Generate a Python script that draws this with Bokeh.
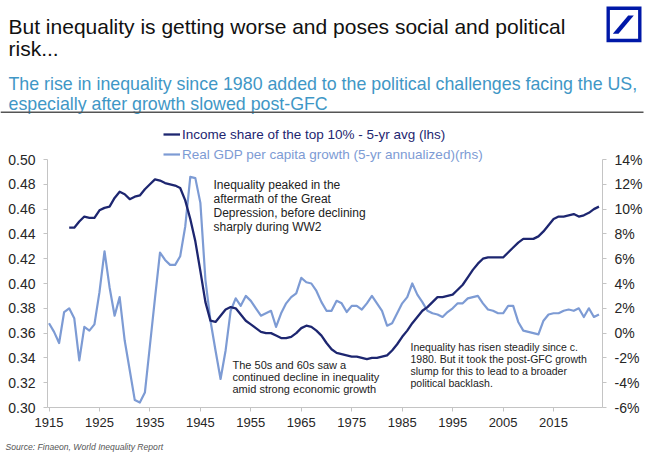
from bokeh.plotting import figure
from bokeh.models import (Range1d, LinearAxis, FixedTicker, PrintfTickFormatter, Label,
                          Legend, LegendItem, PolyAnnotation, BoxAnnotation, ColumnDataSource)
from bokeh.core.properties import value
from bokeh.embed import file_html
from bokeh.resources import INLINE

# ---------------- data ----------------
income_years = list(range(1919, 2025))
income_share = [
    0.445, 0.445, 0.450, 0.454, 0.453, 0.453, 0.459, 0.461, 0.462, 0.469,   # 1919-1928
    0.474, 0.472, 0.468, 0.470, 0.471, 0.476, 0.480, 0.484, 0.483, 0.481,   # 1929-1938
    0.480, 0.479, 0.477, 0.467, 0.452, 0.434, 0.410, 0.385, 0.370, 0.369,   # 1939-1948
    0.374, 0.379, 0.381, 0.380, 0.375, 0.370, 0.367, 0.364, 0.361, 0.360,   # 1949-1958
    0.360, 0.358, 0.356, 0.356, 0.357, 0.360, 0.364, 0.366, 0.365, 0.362,   # 1959-1968
    0.358, 0.352, 0.347, 0.344, 0.343, 0.342, 0.341, 0.341, 0.340, 0.339,   # 1969-1978
    0.340, 0.340, 0.341, 0.342, 0.346, 0.351, 0.357, 0.362, 0.368, 0.373,   # 1979-1988
    0.378, 0.381, 0.385, 0.389, 0.389, 0.390, 0.391, 0.395, 0.399, 0.405,   # 1989-1998
    0.411, 0.416, 0.420, 0.421, 0.421, 0.421, 0.421, 0.425, 0.429, 0.433,   # 1999-2008
    0.436, 0.436, 0.436, 0.438, 0.442, 0.447, 0.452, 0.454, 0.454, 0.455,   # 2009-2018
    0.456, 0.454, 0.455, 0.457, 0.460, 0.462,                               # 2019-2024
]

gdp_years = list(range(1915, 2025))
gdp_growth = [
    0.8, 0.1, -0.8, 1.7, 2.0, 1.2, -2.2, 0.5, 0.2, 0.7,        # 1915-1924
    3.3, 6.6, 3.7, 1.4, 2.9, -0.6, -3.0, -5.4, -5.6, -4.8,     # 1925-1934
    -1.0, 2.8, 6.5, 5.9, 5.5, 5.5, 6.2, 8.6, 12.6, 12.5,       # 1935-1944
    10.5, 4.3, 1.0, -1.4, -3.7, -1.4, 1.8, 2.8, 2.2, 3.0,      # 1945-1954
    2.6, 2.0, 1.4, 1.6, 1.8, 0.5, 1.6, 2.4, 2.9, 3.2,          # 1955-1964
    4.45, 4.1, 4.0, 3.4, 2.5, 1.8, 1.8, 2.6, 2.4, 1.7,         # 1965-1974
    2.2, 2.2, 1.9, 2.4, 3.0, 2.4, 1.8, 0.6, 0.8, 1.6,          # 1975-1984
    2.4, 2.9, 4.0, 3.1, 2.5, 1.8, 1.6, 1.5, 1.3, 1.7,          # 1985-1994
    2.0, 2.4, 2.4, 2.8, 2.9, 3.0, 2.4, 1.9, 1.8, 1.6,          # 1995-2004
    1.6, 2.2, 2.2, 0.9, 0.2, 0.1, 0.0, -0.1, 1.0, 1.5,         # 2005-2014
    1.6, 1.6, 1.8, 1.9, 1.8, 2.0, 1.3, 2.0, 1.3, 1.5,          # 2015-2024
]

x_ticks = [1915, 1925, 1935, 1945, 1955, 1965, 1975, 1985, 1995, 2005, 2015]
lhs_ticks = [0.30, 0.32, 0.34, 0.36, 0.38, 0.40, 0.42, 0.44, 0.46, 0.48, 0.50]
rhs_ticks = [-6, -4, -2, 0, 2, 4, 6, 8, 10, 12, 14]

title_lines = ["But inequality is getting worse and poses social and political", "risk..."]
subtitle_lines = ["The rise in inequality since 1980 added to the political challenges facing the US,",
                  "especially after growth slowed post-GFC"]
legend_labels = ["Income share of the top 10% - 5-yr avg (lhs)",
                 "Real GDP per capita growth (5-yr annualized)(rhs)"]
note1 = ["Inequality peaked in the", "aftermath of the Great", "Depression, before declining", "sharply during WW2"]
note2 = ["The 50s and 60s saw a", "continued decline in inequality", "amid strong economic growth"]
note3 = ["Inequality has risen steadily since c.", "1980. But it took the post-GFC growth",
         "slump for this to lead to a broader", "political backlash."]
source_text = "Source: Finaeon, World Inequality Report"

# ---------------- layout constants (canvas pixels) ----------------
W, H = 650, 455
AX_L, AX_R = 47, 602          # pixel columns of the left / right axis lines
AX_T, AX_B = 159, 407         # pixel rows of the top tick and the x axis
X_LO, X_HI = 1914.7, 2024.7   # years at the axis lines
FONT = "Liberation Sans"
DARK = "#1d2670"
LIGHT = "#7d9bd4"
AXIS_GREY = "#c4c4c4"
TEXT = "#222222"
LOGO = "#0018a8"

lhs_lo, lhs_hi = lhs_ticks[0], lhs_ticks[-1]
rhs_lo, rhs_hi = rhs_ticks[0], rhs_ticks[-1]
kx = (X_HI - X_LO) / (AX_R - AX_L)
kl = (lhs_hi - lhs_lo) / (AX_B - AX_T)
kr = (rhs_hi - rhs_lo) / (AX_B - AX_T)

# the plotting frame covers the whole canvas; axes are pinned at fixed locations
p = figure(width=W, height=H, output_backend="svg", toolbar_location=None,
           x_range=Range1d(X_LO - AX_L * kx, X_HI + (W - AX_R) * kx),
           y_range=Range1d(lhs_lo - (H - AX_B) * kl, lhs_hi + AX_T * kl),
           x_axis_type=None, y_axis_type=None,
           min_border_left=0, min_border_right=0, min_border_top=0, min_border_bottom=0)
p.extra_y_ranges = {"rhs": Range1d(rhs_lo - (H - AX_B) * kr, rhs_hi + AX_T * kr)}
p.outline_line_color = None
p.xgrid.visible = False
p.ygrid.visible = False
p.background_fill_color = "white"
p.border_fill_color = "white"


def style_axis(ax, size="14px", standoff=8):
    ax.axis_line_color = AXIS_GREY
    ax.axis_line_width = 1
    ax.major_tick_line_color = AXIS_GREY
    ax.major_tick_out = 4
    ax.major_tick_in = 0
    ax.minor_tick_line_color = None
    ax.major_label_text_font = FONT
    ax.major_label_text_font_size = size
    ax.major_label_text_color = "#262626"
    ax.major_label_standoff = standoff


xaxis = LinearAxis(ticker=FixedTicker(ticks=x_ticks), fixed_location=lhs_lo, bounds=(X_LO, X_HI))
style_axis(xaxis, size="13px", standoff=6)
p.add_layout(xaxis, "below")

laxis = LinearAxis(ticker=FixedTicker(ticks=lhs_ticks), formatter=PrintfTickFormatter(format="%.2f"),
                   fixed_location=X_LO, bounds=(lhs_lo, lhs_hi))
style_axis(laxis)
p.add_layout(laxis, "left")

raxis = LinearAxis(y_range_name="rhs", ticker=FixedTicker(ticks=rhs_ticks),
                   formatter=PrintfTickFormatter(format="%d%%"),
                   fixed_location=X_HI, bounds=(rhs_lo, rhs_hi))
style_axis(raxis)
p.add_layout(raxis, "right")

src_inc = ColumnDataSource(dict(year=income_years, share=income_share))
src_gdp = ColumnDataSource(dict(year=gdp_years, growth=gdp_growth))

r_gdp = p.line("year", "growth", source=src_gdp, y_range_name="rhs",
               line_color=LIGHT, line_width=2.2, line_join="round")
r_inc = p.line("year", "share", source=src_inc,
               line_color=DARK, line_width=2.3, line_join="round")


def sx(cx):
    return cx


def sy(cy):
    return H - cy


for lab, rend, col, row_top in [(legend_labels[0], r_inc, DARK, 124),
                                (legend_labels[1], r_gdp, LIGHT, 144)]:
    leg = Legend(items=[LegendItem(label=value(lab), renderers=[rend])],
                 location=(sx(163), sy(row_top + 20)),
                 padding=0, margin=0, spacing=0,
                 border_line_color=None, background_fill_alpha=0,
                 glyph_width=17, glyph_height=20, label_height=20, label_standoff=2,
                 label_text_font=FONT, label_text_font_size="13.5px", label_text_color=col)
    p.add_layout(leg)


def add_text(txt, cx, cy, size, color=TEXT, baseline="middle", style="normal"):
    p.add_layout(Label(x=sx(cx), y=sy(cy), x_units="screen", y_units="screen", text=txt,
                       text_font=FONT, text_font_size=size, text_color=color,
                       text_align="left", text_baseline=baseline, text_font_style=style))


add_text(title_lines[0], 8, 26, "21px", "#111111", baseline="alphabetic")
add_text(title_lines[1], 8, 48, "21px", "#111111", baseline="alphabetic")
add_text(subtitle_lines[0], 8, 83, "17.8px", "#3f97c6", baseline="alphabetic")
add_text(subtitle_lines[1], 8, 103, "17.8px", "#3f97c6", baseline="alphabetic")

for i, t in enumerate(note1):
    add_text(t, 213, 184.5 + 14 * i, "12px")
for i, t in enumerate(note2):
    add_text(t, 232, 364.5 + 12.2 * i, "11px")
for i, t in enumerate(note3):
    add_text(t, 410, 346 + 12.2 * i, "10.5px")

add_text(source_text, 5, 446, "8.6px", "#555555", style="italic")

# rule under the subtitle
p.add_layout(BoxAnnotation(left=sx(0), right=sx(643), top=sy(111), bottom=sy(112.5),
                           left_units="screen", right_units="screen",
                           top_units="screen", bottom_units="screen",
                           fill_color="#555555", fill_alpha=1, line_color=None))

# logo
box_x = [607.7, 639.3, 639.3, 607.7]
box_y = [7.7, 7.7, 40.0, 40.0]
p.add_layout(PolyAnnotation(xs=[sx(v) for v in box_x], ys=[sy(v) for v in box_y],
                            xs_units="screen", ys_units="screen",
                            fill_alpha=0, line_color=LOGO, line_alpha=1,
                            line_width=3.4, line_join="miter"))
sl_x = [612.3, 618.0, 633.3, 627.7]
sl_y = [33.3, 33.3, 15.0, 15.0]
p.add_layout(PolyAnnotation(xs=[sx(v) for v in sl_x], ys=[sy(v) for v in sl_y],
                            xs_units="screen", ys_units="screen",
                            fill_color=LOGO, fill_alpha=1, line_alpha=0))

open("out.html", "w").write(file_html(p, INLINE, title="chart"))
